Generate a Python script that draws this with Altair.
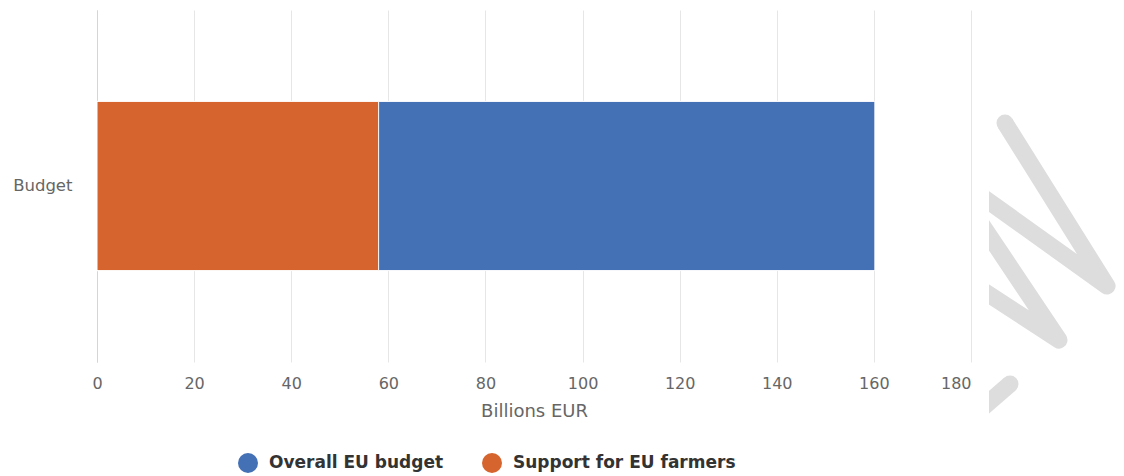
import altair as alt
import pandas as pd

# ---- data ----
category = ["Budget", "Budget"]
series = ["Overall EU budget", "Support for EU farmers"]
values = [160.2, 58.0]          # billions EUR (bars overlap, farmers drawn on top)
draw_order = [0, 1]
x_ticks = [0, 20, 40, 60, 80, 100, 120, 140, 160, 180]
colors = ["#4470b5", "#d6642e"]

df = pd.DataFrame({"category": category, "series": series,
                   "value": values, "ord": draw_order})

# ---- decorative grey watermark at the right edge (pixel positions, not data) ----
wm_path = ["a", "a", "a", "b", "b", "b", "c", "c"]
wm_idx = [0, 1, 2, 0, 1, 2, 0, 1]
wm_px = [883, 1010, 908, 883.5, 962, 883, 883, 913]
wm_py = [185.1, 276, 113, 212.6, 330, 278.7, 400, 374]
cap_px = [908, 913]
cap_py = [113, 374]
mask_x = [876]
mask_x2 = [892]
mask_y = [80]
mask_y2 = [420]

wm_df = pd.DataFrame({"path": wm_path, "i": wm_idx, "px": wm_px, "py": wm_py})
cap_df = pd.DataFrame({"px": cap_px, "py": cap_py})
mask_df = pd.DataFrame({"x": mask_x, "x2": mask_x2, "y": mask_y, "y2": mask_y2})

FONT = "DejaVu Sans"

bars = alt.Chart(df).mark_bar(stroke="white", strokeWidth=1).encode(
    y=alt.Y("category:N", title=None,
            scale=alt.Scale(paddingInner=0, paddingOuter=0.54),
            axis=alt.Axis(domain=True, domainColor="#ccd6eb", domainWidth=1,
                          ticks=False, grid=False, labelFontSize=16.5,
                          labelColor="#666666", labelPadding=25, labelFont=FONT)),
    x=alt.X("value:Q", stack=None,
            scale=alt.Scale(domain=[0, 180], nice=False, zero=True),
            axis=alt.Axis(values=x_ticks, title="Billions EUR", grid=True,
                          gridColor={"condition": {"test": "datum.value === 0", "value": "#ccd6eb"},
                                     "value": "#e6e6e6"},
                          gridWidth=1, domain=False,
                          ticks=False, labelFontSize=16, labelColor="#666666",
                          labelPadding=13, labelFont=FONT,
                          labelAlign={"condition": {"test": "datum.value === 180", "value": "right"},
                                      "value": "center"},
                          titleFontSize=18, titleColor="#666666",
                          titleFontWeight="normal", titlePadding=11, titleFont=FONT)),
    color=alt.Color("series:N",
                    scale=alt.Scale(domain=series, range=colors),
                    legend=alt.Legend(orient="none", legendX=141, legendY=443,
                                      direction="horizontal", title=None,
                                      symbolType="circle", symbolSize=400,
                                      symbolStrokeWidth=0, symbolOpacity=1,
                                      labelFontSize=17, labelFontWeight="bold",
                                      labelColor="#333333", labelFont=FONT,
                                      labelOffset=11, columnPadding=38,
                                      labelLimit=400, padding=0)),
    order=alt.Order("ord:Q"),
)

wm_lines = alt.Chart(wm_df).mark_line(
    color="#dddddd", strokeWidth=17, strokeCap="butt", strokeJoin="round"
).encode(
    x=alt.X("px:Q", scale=None, axis=None),
    y=alt.Y("py:Q", scale=None, axis=None),
    detail="path:N",
    order="i:Q",
)

wm_caps = alt.Chart(cap_df).mark_circle(color="#dddddd", size=289, opacity=1).encode(
    x=alt.X("px:Q", scale=None, axis=None),
    y=alt.Y("py:Q", scale=None, axis=None),
)

wm_mask = alt.Chart(mask_df).mark_rect(color="white").encode(
    x=alt.X("x:Q", scale=None, axis=None),
    x2="x2:Q",
    y=alt.Y("y:Q", scale=None, axis=None),
    y2="y2:Q",
)

chart = alt.layer(bars, wm_lines, wm_caps, wm_mask).properties(
    width=874, height=352,
    padding={"left": 4, "top": 2, "right": 0, "bottom": 0},
).configure(font=FONT).configure_view(stroke=None, strokeWidth=0)

chart.save("out.html", embed_options={"renderer": "svg", "actions": False})
